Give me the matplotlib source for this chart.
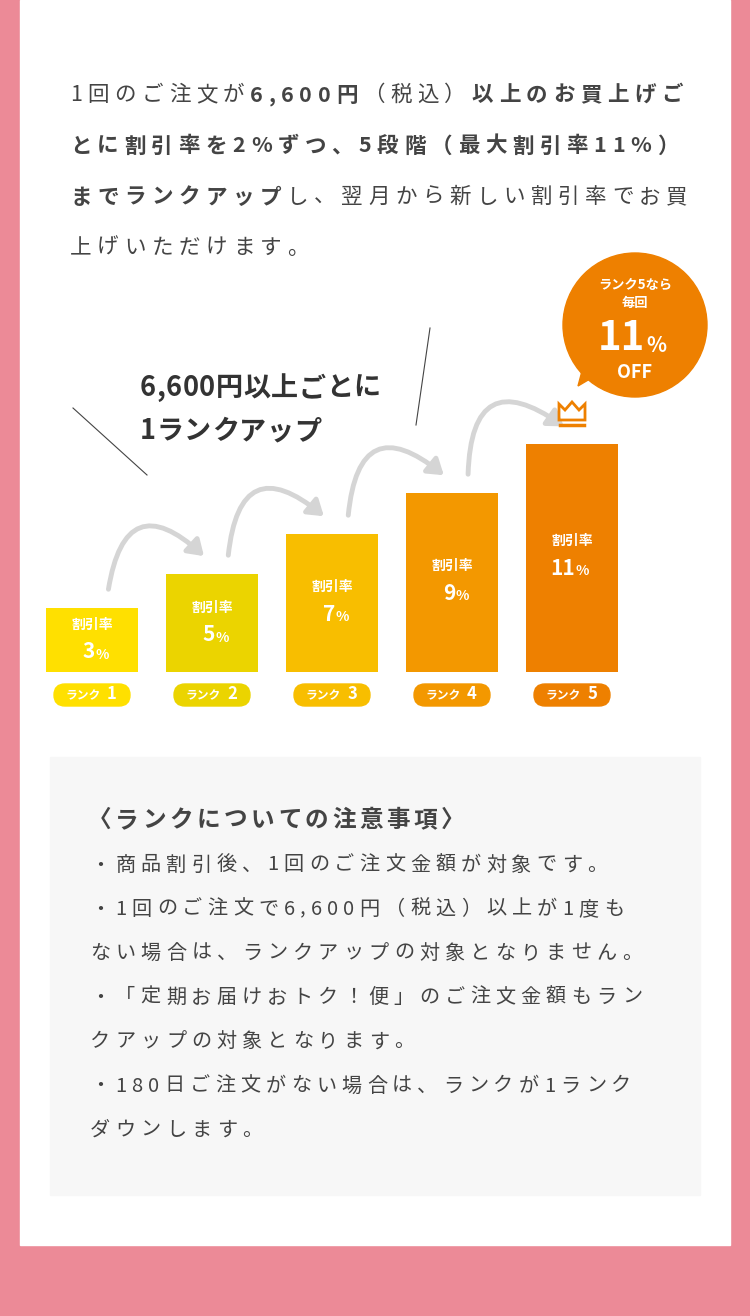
import matplotlib
matplotlib.use("Agg")
import matplotlib.pyplot as plt
from matplotlib.patches import Rectangle, FancyBboxPatch, FancyArrowPatch, Circle, Polygon

FONT = "Noto Sans CJK JP"
ranks = ["ランク 1", "ランク 2", "ランク 3", "ランク 4", "ランク 5"]
rates = [3, 5, 7, 9, 11]
bar_heights = [64, 98, 138, 179, 228]
colors = ["#FFE000", "#EBD400", "#F8BE00", "#F39800", "#EE8000"]

intro_lines = [
    [("1回のご注文が", False), ("6,600円", True), ("（税込）", False), ("以上のお買上げご", True)],
    [("とに割引率を2%ずつ、5段階（最大割引率11%）", True)],
    [("までランクアップ", True), ("し、翌月から新しい割引率でお買", False)],
    [("上げいただけます。", False)],
]
notes_title = "〈ランクについての注意事項〉"
notes = [
    "・商品割引後、1回のご注文金額が対象です。",
    "・1回のご注文で6,600円（税込）以上が1度も",
    "ない場合は、ランクアップの対象となりません。",
    "・「定期お届けおトク！便」のご注文金額もラン",
    "クアップの対象となります。",
    "・180日ご注文がない場合は、ランクが1ランク",
    "ダウンします。",
]

fig = plt.figure(figsize=(7.5, 13.16), dpi=100)
fig.patch.set_facecolor("#EC8A97")
ax = fig.add_axes([0, 0, 1, 1])
ax.set_xlim(0, 750); ax.set_ylim(1316, 0); ax.axis("off")
ax.add_patch(Rectangle((20, 0), 710, 1245, color="white", zorder=0))
ax.add_patch(Rectangle((50, 757), 650, 438, color="#F7F7F7", zorder=0))
fig.canvas.draw()
r = fig.canvas.get_renderer()

def draw_runs(x, y, runs, size, spacing, color="#444444"):
    for s, bold in runs:
        for ch in s:
            t = ax.text(x, y, ch, fontsize=size, fontfamily=FONT, color=color,
                        fontweight="bold" if bold else "normal", va="center", ha="left")
            w = t.get_window_extent(r).width
            x += w + spacing
    return x

for i, line in enumerate(intro_lines):
    draw_runs(70, 95 + i * 51, line, 15.5, 5.6)

draw_runs(140, 388, [("6,600円以上ごとに", True)], 19.5, 0.5, "#333333")
draw_runs(140, 431, [("1ランクアップ", True)], 19.5, 0.5, "#333333")
ax.plot([73, 147], [408, 475], color="#444", lw=0.8)
ax.plot([430, 416], [328, 425], color="#444", lw=0.8)

base = 672
centers = [92 + 120 * i for i in range(5)]
ax.bar(centers, [-h for h in bar_heights], bottom=base, width=92, color=colors, zorder=2)
for c, h, rt, col, rk in zip(centers, bar_heights, rates, colors, ranks):
    top = base - h
    ly = top + 17 + (h - 64) * 0.49
    ax.text(c, ly, "割引率", fontsize=10, fontweight="bold", color="white",
            fontfamily=FONT, ha="center", va="center", zorder=3)
    ax.text(c + 3, ly + 27, str(rt), fontsize=15, fontweight="bold", color="white",
            fontfamily=FONT, ha="right", va="center", zorder=3)
    ax.text(c + 3, ly + 30, "%", fontsize=10, fontweight="bold", color="white",
            fontfamily=FONT, ha="left", va="center", zorder=3)
    ax.add_patch(FancyBboxPatch((c - 38, 684), 76, 22, boxstyle="round,pad=0,rounding_size=11",
                                color=col, zorder=2))
    ax.text(c - 9, 696, "ランク", fontsize=8.5, fontweight="bold", color="white",
            fontfamily=FONT, ha="center", va="center", zorder=3)
    ax.text(c + 20, 694, rk.split()[1], fontsize=12, fontweight="bold", color="white",
            fontfamily=FONT, ha="center", va="center", zorder=3)

# arrows between bars
for i in range(4):
    x0 = centers[i] + 16
    y0 = base - bar_heights[i] - 16
    x1 = centers[i + 1] - 6
    y1 = base - bar_heights[i + 1] - 16
    ax.add_patch(FancyArrowPatch((x0, y0), (x1, y1), connectionstyle="arc3,rad=-0.95",
                                 arrowstyle="-|>,head_length=9,head_width=6",
                                 color="#D5D5D5", lw=3.5, zorder=1))

# crown
ax.add_patch(Polygon([[559, 420], [559, 404], [565, 410], [572, 402], [579, 410], [585, 404], [585, 420]],
                     closed=True, fill=False, edgecolor="#EE8000", lw=2))
ax.plot([560, 584], [425, 425], color="#EE8000", lw=2.5)

# badge
ax.add_patch(Polygon([[585, 360], [578, 386], [605, 370]], color="#EE8000"))
ax.add_patch(Circle((635, 325), 72, color="#EE8000"))
ax.text(635, 285, "ランク5なら", fontsize=9.5, fontweight="bold", color="white", fontfamily=FONT, ha="center", va="center")
ax.text(635, 303, "毎回", fontsize=9.5, fontweight="bold", color="white", fontfamily=FONT, ha="center", va="center")
ax.text(645, 338, "11", fontsize=29, fontweight="bold", color="white", fontfamily=FONT, ha="right", va="center")
ax.text(646, 345, "%", fontsize=15, fontweight="bold", color="white", fontfamily=FONT, ha="left", va="center")
ax.text(635, 372, "OFF", fontsize=13, fontweight="bold", color="white", fontfamily=FONT, ha="center", va="center")

draw_runs(88, 820, [(notes_title, True)], 17, 3.5, "#444444")
for i, line in enumerate(notes):
    draw_runs(90, 865 + i * 44.2, [(line, False)], 14.5, 5.2, "#444444")

fig.savefig("out.png", dpi=100, facecolor=fig.get_facecolor())
